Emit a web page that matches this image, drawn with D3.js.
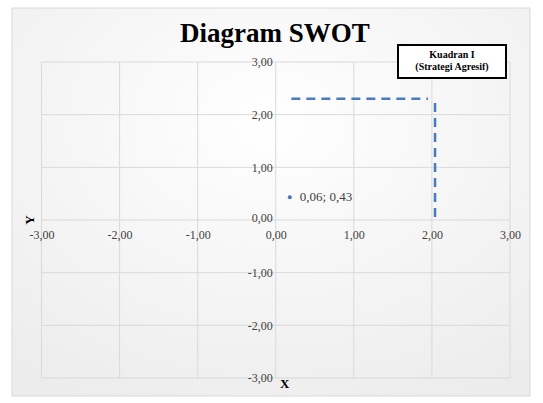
<!DOCTYPE html>
<html><head><meta charset="utf-8">
<script src="https://cdn.jsdelivr.net/npm/d3@7"></script>
<style>body{margin:0;background:#fff}svg{display:block}</style>
</head><body>
<script>
const xTicks = [-3,-2,-1,0,1,2,3];
const yTicks = [-3,-2,-1,0,1,2,3];
const pointData = [{x:0.18, y:0.43, label:"0,06; 0,43"}];
const hLine = [{x:0.2, y:2.3},{x:1.95, y:2.3}];
const vLine = [{x:2.04, y:2.22},{x:2.04, y:0.03}];
const title = "Diagram SWOT";
const boxLines = ["Kuadran I","(Strategi Agresif)"];

const W=543,H=403;
const svg=d3.select("body").append("svg").attr("width",W).attr("height",H);
const defs=svg.append("defs");
const g=defs.append("radialGradient").attr("id","bg").attr("cx","50%").attr("cy","30%").attr("r","80%");
g.append("stop").attr("offset","0%").attr("stop-color","#ffffff");
g.append("stop").attr("offset","100%").attr("stop-color","#ececec");
svg.append("rect").attr("x",12).attr("y",8).attr("width",518).attr("height",388)
  .attr("fill","url(#bg)").attr("stroke","#d9d9d9").attr("stroke-width",1);

const x=d3.scaleLinear().domain([-3,3]).range([41.5,510]);
const y=d3.scaleLinear().domain([-3,3]).range([378,62]);
const font="'Liberation Serif','Times New Roman',serif";

// gridlines
svg.append("g").selectAll("line.v").data(xTicks).join("line")
  .attr("x1",d=>x(d)).attr("x2",d=>x(d)).attr("y1",y(3)).attr("y2",y(-3))
  .attr("stroke","#d9d9d9").attr("stroke-width",1);
svg.append("g").selectAll("line.h").data(yTicks).join("line")
  .attr("x1",x(-3)).attr("x2",x(3)).attr("y1",d=>y(d)).attr("y2",d=>y(d))
  .attr("stroke","#d9d9d9").attr("stroke-width",1);

const fmt=d=>d3.format(".2f")(d).replace(".",",").replace("−","-");
// y axis labels
const yAxis=d3.axisLeft(y).tickValues(yTicks).tickFormat(fmt).tickSize(0).tickPadding(3);
const ya=svg.append("g").attr("transform",`translate(${x(0)},0)`).call(yAxis);
ya.select(".domain").remove();
ya.selectAll("text").attr("font-family",font).attr("font-size",12).attr("fill","#404040")
  .attr("dy",d=>d===0?"0.1em":"0.32em");
// x axis labels
const xAxis=d3.axisBottom(x).tickValues(xTicks).tickFormat(fmt).tickSize(0).tickPadding(10);
const xa=svg.append("g").attr("transform",`translate(0,${y(0)})`).call(xAxis);
xa.select(".domain").remove();
xa.selectAll("text").attr("font-family",font).attr("font-size",12).attr("fill","#404040");

// dashed lines
const line=d3.line().x(d=>x(d.x)).y(d=>y(d.y));
[hLine,vLine].forEach(dd=>{
  svg.append("path").attr("d",line(dd)).attr("fill","none").attr("stroke","#4a7bc0")
    .attr("stroke-width",2.5).attr("stroke-dasharray","9,6");
});

// point
svg.selectAll("circle.p").data(pointData).join("circle")
  .attr("cx",d=>x(d.x)).attr("cy",d=>y(d.y)).attr("r",2).attr("fill","#4472c4");
svg.selectAll("text.pl").data(pointData).join("text")
  .attr("x",d=>x(d.x)+10).attr("y",d=>y(d.y)+4).text(d=>d.label)
  .attr("font-family",font).attr("font-size",13).attr("fill","#404040");

// title
svg.append("text").attr("x",275).attr("y",42).attr("text-anchor","middle")
  .attr("font-family",font).attr("font-weight","bold").attr("font-size",27).attr("fill","#000").text(title);

// axis titles
svg.append("text").attr("transform",`translate(34,${y(0)}) rotate(-90)`).attr("text-anchor","middle")
  .attr("font-family",font).attr("font-weight","bold").attr("font-size",13).text("Y");
svg.append("text").attr("x",x(0)+9).attr("y",388).attr("text-anchor","middle")
  .attr("font-family",font).attr("font-weight","bold").attr("font-size",13).text("X");

// box
svg.append("rect").attr("x",398).attr("y",45).attr("width",108).attr("height",33)
  .attr("fill","#fff").attr("stroke","#000").attr("stroke-width",2);
svg.selectAll("text.box").data(boxLines).join("text")
  .attr("x",452).attr("y",(d,i)=>58+i*12).attr("text-anchor","middle")
  .attr("font-family",font).attr("font-weight","bold").attr("font-size",10).text(d=>d);
</script>
</body></html>
